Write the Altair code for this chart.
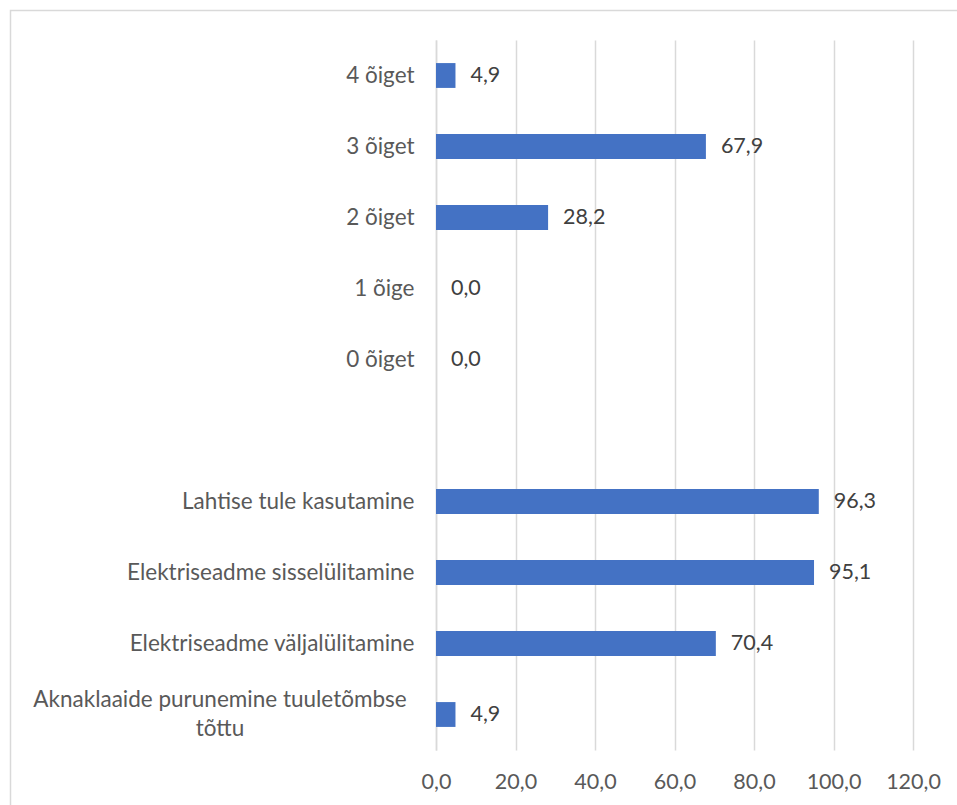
import altair as alt
import pandas as pd

# Categories top to bottom; "" is an empty spacer row between the two groups
categories = [
    "4 õiget",
    "3 õiget",
    "2 õiget",
    "1 õige",
    "0 õiget",
    "",
    "Lahtise tule kasutamine",
    "Elektriseadme sisselülitamine\u00a0",
    "Elektriseadme väljalülitamine",
    "Aknaklaaide purunemine tuuletõmbse tõttu",
]
values = [4.9, 67.9, 28.2, 0.0, 0.0, None, 96.3, 95.1, 70.4, 4.9]
x_ticks = [0, 20, 40, 60, 80, 100, 120]

long_label = "Aknaklaaide purunemine tuuletõmbse tõttu"
long_label_lines = "Aknaklaaide purunemine tuuletõmbse\ntõttu"

df = pd.DataFrame({"kategooria": categories, "protsent": values})
bars_df = df[df["protsent"].notna()].copy()
bars_df["silt"] = bars_df["protsent"].map(lambda v: f"{v:.1f}".replace(".", ","))

FONT = "Lato"
FS = 22.5
NUM_FS = 21.5
LABEL_GRAY = "#595959"
GRID = "#d9d9d9"

y_enc = alt.Y(
    "kategooria:N",
    sort=categories,
    scale=alt.Scale(domain=categories, paddingInner=0.65, paddingOuter=0.325),
    axis=alt.Axis(
        title=None,
        ticks=False,
        tickSize=0,
        labelPadding=22,
        labelFont=FONT,
        labelFontSize=FS,
        labelColor=LABEL_GRAY,
        labelLimit=500,
        labelOverlap=False,
        labelExpr=f"datum.value == '{long_label}' ? '' : datum.value",
        domainColor=GRID,
        domainWidth=1.5,
        grid=False,
    ),
)

x_enc = alt.X(
    "protsent:Q",
    scale=alt.Scale(domain=[0, 120], nice=False),
    axis=alt.Axis(
        title=None,
        values=x_ticks,
        domain=False,
        ticks=False,
        tickSize=0,
        labelPadding=21,
        labelFont=FONT,
        labelFontSize=NUM_FS,
        labelColor=LABEL_GRAY,
        labelOverlap=False,
        labelFlush=False,
        labelExpr="replace(format(datum.value, '.1f'), '.', ',')",
        grid=True,
        gridColor=GRID,
        gridWidth=1.5,
    ),
)

bars = alt.Chart(bars_df).mark_bar(color="#4472C4").encode(y=y_enc, x=x_enc)

value_labels = alt.Chart(bars_df).mark_text(
    align="left", baseline="middle", dx=15, font=FONT, fontSize=NUM_FS, color="#404040"
).encode(y=alt.Y("kategooria:N", sort=categories), x="protsent:Q", text="silt:N")

# Wrapped, centred label for the last category
long_df = pd.DataFrame({"kategooria": [long_label], "tekst": [long_label_lines]})
wrapped_label = alt.Chart(long_df).mark_text(
    align="center", baseline="middle", lineBreak="\n", lineHeight=29, dy=-15,
    font=FONT, fontSize=FS, color=LABEL_GRAY,
).encode(
    y=alt.Y("kategooria:N", sort=categories),
    x=alt.value(-216),
    text="tekst:N",
)

# Thin frame around the chart area
frame = alt.Chart(pd.DataFrame({"k": [0]})).mark_rect(
    fill=None, stroke=GRID, strokeWidth=1.5
).encode(
    x=alt.value(-425.5), x2=alt.value(540), y=alt.value(-29.5), y2=alt.value(800)
)

chart = (
    alt.layer(frame, bars, value_labels, wrapped_label)
    .properties(
        width=477,
        height=710,
        autosize=alt.AutoSizeParams(type="none"),
        padding={"left": 436, "top": 40, "right": 44, "bottom": 55},
        background="white",
    )
    .configure_view(stroke=None)
)

chart.save("out.html", embed_options={"renderer": "svg", "actions": False})
